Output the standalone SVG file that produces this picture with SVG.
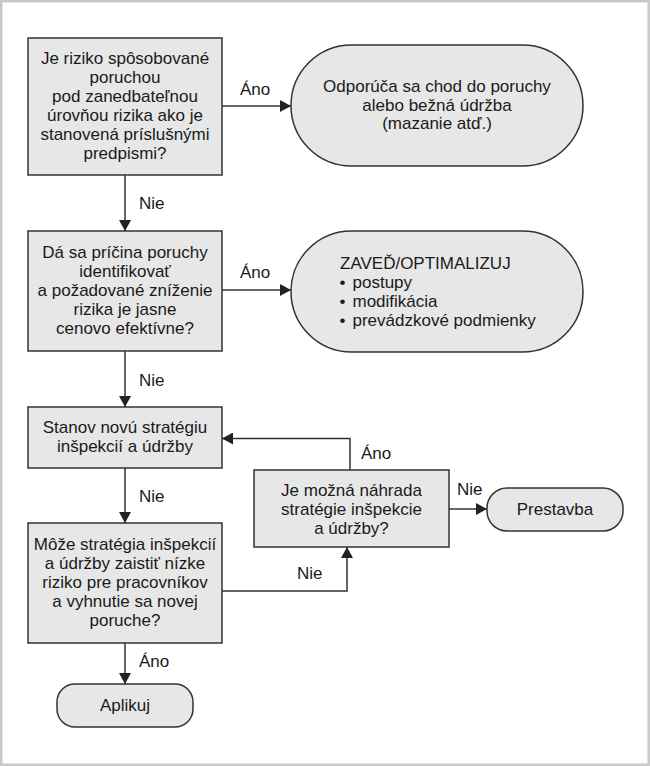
<svg xmlns="http://www.w3.org/2000/svg" width="650" height="766" viewBox="0 0 650 766">
<style>
.box{fill:#e7e7e7;stroke:#333;stroke-width:1.5}
.t{font-family:"Liberation Sans",Arial,sans-serif;font-size:17px;fill:#1a1a1a}
.c{text-anchor:middle}
.ln{fill:none;stroke:#333;stroke-width:1.5}
</style>
<defs>
<marker id="ah" markerUnits="userSpaceOnUse" markerWidth="12" markerHeight="12" refX="11" refY="6" orient="auto">
<path d="M0,0 L11,6 L0,12 z" fill="#222"/>
</marker>
</defs>
<rect x="1.2" y="1.2" width="647.5" height="763.5" fill="#fff" stroke="#c8c8c8" stroke-width="2.5"/>

<g id="connectors">
<path class="ln" d="M125,175 V231" marker-end="url(#ah)"/>
<path class="ln" d="M222,106 H291" marker-end="url(#ah)"/>
<path class="ln" d="M125,351 V407" marker-end="url(#ah)"/>
<path class="ln" d="M222,290 H291" marker-end="url(#ah)"/>
<path class="ln" d="M125,468 V523" marker-end="url(#ah)"/>
<path class="ln" d="M125,643 V684" marker-end="url(#ah)"/>
<path class="ln" d="M350,470 V438.5 H222" marker-end="url(#ah)"/>
<path class="ln" d="M449,509 H487" marker-end="url(#ah)"/>
<path class="ln" d="M222,591 H347 V547" marker-end="url(#ah)"/>
<g class="t">
<text x="240" y="95">Áno</text>
<text x="139" y="209">Nie</text>
<text x="240" y="278">Áno</text>
<text x="139" y="386">Nie</text>
<text x="139" y="502">Nie</text>
<text x="361" y="459">Áno</text>
<text x="457" y="495">Nie</text>
<text x="297" y="579">Nie</text>
<text x="139" y="667">Áno</text>
</g>
</g>

<g id="q1">
<rect class="box" x="28" y="38" width="194" height="137"/>
<text class="t c" x="125" y="64">Je riziko spôsobované</text>
<text class="t c" x="125" y="83">poruchou</text>
<text class="t c" x="125" y="102">pod zanedbateľnou</text>
<text class="t c" x="125" y="121">úrovňou rizika ako je</text>
<text class="t c" x="125" y="140">stanovená príslušnými</text>
<text class="t c" x="125" y="159">predpismi?</text>
</g>

<g id="r1">
<rect class="box" x="291" y="45" width="292" height="121" rx="60.5"/>
<text class="t c" x="437" y="92">Odporúča sa chod do poruchy</text>
<text class="t c" x="437" y="110.5">alebo bežná údržba</text>
<text class="t c" x="437" y="129">(mazanie atď.)</text>
</g>

<g id="q2">
<rect class="box" x="28" y="231" width="194" height="120"/>
<text class="t c" x="125" y="258">Dá sa príčina poruchy</text>
<text class="t c" x="125" y="277">identifikovať</text>
<text class="t c" x="125" y="296">a požadované zníženie</text>
<text class="t c" x="125" y="315">rizika je jasne</text>
<text class="t c" x="125" y="334">cenovo efektívne?</text>
</g>

<g id="r2">
<rect class="box" x="291" y="231" width="292" height="121" rx="60.5"/>
<text class="t" x="340" y="269">ZAVEĎ/OPTIMALIZUJ</text>
<text class="t" x="339.5" y="288">•<tspan x="352.5">postupy</tspan></text>
<text class="t" x="339.5" y="307">•<tspan x="352.5">modifikácia</tspan></text>
<text class="t" x="339.5" y="326">•<tspan x="352.5">prevádzkové podmienky</tspan></text>
</g>

<g id="s1">
<rect class="box" x="28" y="407" width="194" height="61"/>
<text class="t c" x="125" y="433">Stanov novú stratégiu</text>
<text class="t c" x="125" y="452">inšpekcií a údržby</text>
</g>

<g id="q4">
<rect class="box" x="254" y="470" width="195" height="77"/>
<text class="t c" x="351.5" y="496">Je možná náhrada</text>
<text class="t c" x="351.5" y="515">stratégie inšpekcie</text>
<text class="t c" x="351.5" y="534">a údržby?</text>
</g>

<g id="prestavba">
<rect class="box" x="487" y="488" width="136" height="43" rx="20"/>
<text class="t c" x="555" y="515">Prestavba</text>
</g>

<g id="q3">
<rect class="box" x="28" y="523" width="194" height="120"/>
<text class="t c" x="125" y="550">Môže stratégia inšpekcií</text>
<text class="t c" x="125" y="569">a údržby zaistiť nízke</text>
<text class="t c" x="125" y="588">riziko pre pracovníkov</text>
<text class="t c" x="125" y="607">a vyhnutie sa novej</text>
<text class="t c" x="125" y="626">poruche?</text>
</g>

<g id="aplikuj">
<rect class="box" x="57" y="684" width="136" height="43" rx="18"/>
<text class="t c" x="125" y="711">Aplikuj</text>
</g>
</svg>
